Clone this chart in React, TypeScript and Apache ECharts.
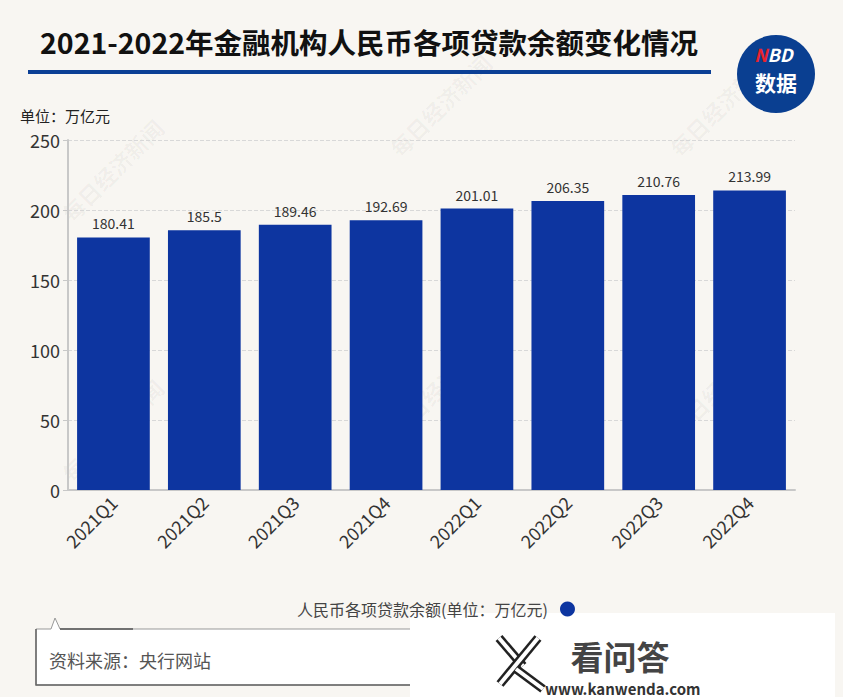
import React, { useEffect, useRef } from "react";
import * as echarts from "echarts";

const categories = ["2021Q1", "2021Q2", "2021Q3", "2021Q4", "2022Q1", "2022Q2", "2022Q3", "2022Q4"];
const loanBalance = [180.41, 185.5, 189.46, 192.69, 201.01, 206.35, 210.76, 213.99];
const seriesName = "人民币各项贷款余额(单位：万亿元)";
const titleText = "2021-2022年金融机构人民币各项贷款余额变化情况";
const unitText = "单位：万亿元";
const sourceText = "资料来源：央行网站";
const watermarkPositions = [
  [112, 170], [440, 105], [720, 105], [112, 430], [440, 385], [720, 385],
];

const FONT = "'Noto Sans CJK SC', 'Noto Sans', sans-serif";

export default function App() {
  const ref = useRef<HTMLDivElement>(null);
  useEffect(() => {
    if (!ref.current) return;
    const chart = echarts.init(ref.current, null, { renderer: "svg" });
    const watermarks = watermarkPositions.map(([x, y]) => ({
      type: "text",
      x,
      y,
      rotation: Math.PI / 4,
      silent: true,
      z: 0,
      style: {
        text: "每日经济新闻",
        fill: "rgba(0,0,0,0.04)",
        font: `bold 22px ${FONT}`,
        align: "center",
        verticalAlign: "middle",
      },
    }));
    const kStroke = (pts: number[][]) => [
      { type: "polyline", shape: { points: pts }, style: { stroke: "#222", lineWidth: 9, fill: "none", lineCap: "butt" } },
      { type: "polyline", shape: { points: pts }, style: { stroke: "#ffffff", lineWidth: 4, fill: "none", lineCap: "butt" } },
    ];
    chart.setOption({
      animation: false,
      backgroundColor: "#f8f6f2",
      textStyle: { fontFamily: FONT },
      grid: { left: 68, right: 48, top: 140, bottom: 207 },
      legend: {
        left: 292,
        top: 596,
        align: "right",
        icon: "circle",
        itemWidth: 15,
        itemHeight: 15,
        formatter: (n: string) => n + "  ",
        textStyle: { fontSize: 16, color: "#444", fontFamily: FONT },
        data: [seriesName],
      },
      xAxis: {
        type: "category",
        data: categories,
        axisLine: { lineStyle: { color: "#c8c8c8", width: 2 } },
        axisTick: { show: false },
        axisLabel: { rotate: 45, fontSize: 18, color: "#333", margin: 9, fontFamily: FONT },
      },
      yAxis: {
        type: "value",
        min: 0,
        max: 250,
        interval: 50,
        axisLine: { show: true, lineStyle: { color: "#c8c8c8", width: 2 } },
        axisTick: { show: true, length: 5, lineStyle: { color: "#c8c8c8" } },
        axisLabel: { fontSize: 18, color: "#333", margin: 8, fontFamily: FONT },
        splitLine: { lineStyle: { color: "#d8d8d8", type: "dashed" } },
      },
      series: [
        {
          name: seriesName,
          type: "bar",
          data: loanBalance,
          barWidth: "80%",
          itemStyle: { color: "#0d35a0" },
          label: { show: true, position: "top", fontSize: 14, color: "#333", distance: 7, fontFamily: FONT },
        },
      ],
      graphic: [
        ...watermarks,
        {
          type: "text",
          left: 40,
          top: 27,
          style: { text: titleText, font: `bold 28.5px ${FONT}`, fill: "#111" },
        },
        {
          type: "rect",
          shape: { x: 28, y: 70, width: 683, height: 4 },
          style: { fill: "#0b3f95" },
        },
        {
          type: "circle",
          shape: { cx: 776, cy: 74, r: 39 },
          style: { fill: "#0a3f91" },
        },
        {
          type: "text",
          x: 754,
          y: 54,
          style: {
            text: "{n|N}{b|BD}",
            verticalAlign: "middle",
            rich: {
              n: { fill: "#e8232d", font: `italic bold 18px ${FONT}`, lineHeight: 14, height: 14 },
              b: { fill: "#ffffff", font: `italic bold 18px ${FONT}`, lineHeight: 14, height: 14 },
            },
          },
        },
        {
          type: "text",
          x: 776,
          y: 82,
          style: { text: "数据", fill: "#fff", font: `bold 21px ${FONT}`, align: "center", verticalAlign: "middle", lineHeight: 18 },
        },
        {
          type: "text",
          x: 20,
          y: 115,
          style: { text: unitText, fill: "#222", font: `15px ${FONT}`, verticalAlign: "middle" },
        },
        {
          type: "polygon",
          shape: { points: [[36, 629], [51, 629], [55, 618], [60, 629], [420, 629], [420, 685], [36, 685]] },
          style: { fill: "#ffffff", stroke: "#999", lineWidth: 1 },
        },
        {
          type: "polyline",
          shape: { points: [[133, 629], [60, 629]] },
          style: { stroke: "#555", lineWidth: 1.5, fill: "none" },
        },
        {
          type: "polyline",
          shape: { points: [[36, 629], [36, 685], [410, 685]] },
          style: { stroke: "#666", lineWidth: 1.5, fill: "none" },
        },
        {
          type: "text",
          x: 49,
          y: 660,
          style: { text: sourceText, fill: "#555", font: `18px ${FONT}`, verticalAlign: "middle" },
        },
        {
          type: "rect",
          shape: { x: 410, y: 613, width: 425, height: 84 },
          style: { fill: "#ffffff" },
        },
        ...kStroke([[499, 638], [523, 666]]),
        ...kStroke([[538, 638], [500, 684]]),
        ...kStroke([[516, 669], [543, 689]]),
        {
          type: "text",
          x: 620,
          y: 656,
          style: { text: "看问答", fill: "#444", font: `bold 33px ${FONT}`, align: "center", verticalAlign: "middle", lineHeight: 34 },
        },
        {
          type: "text",
          x: 545,
          y: 688,
          style: { text: "www.kanwenda.com", fill: "#333", font: `bold 15px ${FONT}`, verticalAlign: "middle", lineHeight: 14 },
        },
      ],
    });
    return () => chart.dispose();
  }, []);
  return <div ref={ref} style={{ width: 843, height: 697, position: "absolute", left: 0, top: 0 }} />;
}
